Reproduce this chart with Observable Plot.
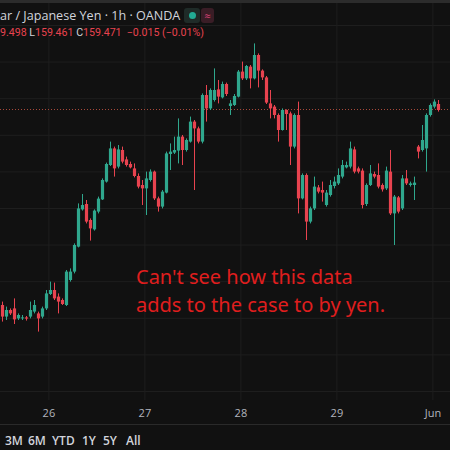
<!DOCTYPE html>
<html><head><meta charset="utf-8">
<script src="https://cdn.jsdelivr.net/npm/d3@7"></script>
<script src="https://cdn.jsdelivr.net/npm/@observablehq/plot@0.6"></script>
<style>
html,body{margin:0;padding:0;background:#111111;}
#wrap{position:relative;width:450px;height:450px;overflow:hidden;background:#111111;font-family:"Open Sans","Noto Sans",sans-serif;}
#chart{position:absolute;left:0;top:0;}
.ov{position:absolute;white-space:nowrap;}
#topbar{left:0;top:0;width:450px;height:3px;background:#2c2c2c;}
#title{left:0;top:7px;font-size:12.6px;color:#d1d4dc;}
#dotbox{left:184px;top:8px;width:16px;height:15px;border-radius:3px;background:#1f2b28;}
#dot{left:189px;top:12px;width:7px;height:7px;border-radius:50%;background:#22ab94;}
#wavebox{left:201px;top:8px;width:13px;height:15px;border-radius:3px;background:#3a1d26;color:#e0457b;font-size:11px;text-align:center;line-height:15px;}
#ohlc{left:0;top:26px;font-size:10.6px;color:#e8434f;font-family:Roboto,"Open Sans",sans-serif;}
#ohlc .k{color:#d1d4dc;}
#note{left:136px;top:263px;font-size:20px;line-height:28px;color:#e01e1e;font-family:"Noto Sans","Open Sans",sans-serif;}
#sep{left:0;top:424px;width:450px;height:1px;background:#2a2a2a;}
.btn{top:432px;font-size:12px;color:#d1d4dc;font-weight:600;}
</style></head>
<body><div id="wrap"><div id="chart"></div>
<div class="ov" id="topbar"></div>
<div class="ov" id="title">ar / Japanese Yen · 1h · OANDA</div>
<div class="ov" id="dotbox"></div><div class="ov" id="dot"></div>
<div class="ov" id="wavebox">≈</div>
<div class="ov" id="ohlc">9.498 <span class="k">L</span>159.461 <span class="k">C</span>159.471 &nbsp;−0.015 (−0.01%)</div>
<div class="ov" id="note">Can't see how this data<br>adds to the case to by yen.</div>
<div class="ov" id="sep"></div>
<div id="btns"></div>
</div>
<script>
// hourly candles (index = hour slot), prices in JPY
const opens = [158.491,158.433,158.466,158.474,158.424,158.424,158.429,158.433,158.458,158.449,
158.433,158.474,158.546,158.566,158.533,158.516,158.491,158.616,158.658,158.783,
158.969,158.996,158.916,158.869,158.958,159.019,159.108,159.191,159.274,159.183,
159.266,159.219,159.196,159.174,159.136,159.091,159.074,159.116,159.158,159.024,
158.983,159.053,159.246,159.253,159.263,159.333,159.266,159.308,159.408,159.374,
159.308,159.541,159.474,159.516,159.569,159.529,159.596,159.486,159.491,159.533,
159.658,159.624,159.683,159.624,159.741,159.663,159.629,159.499,159.483,159.441,
159.366,159.466,159.449,159.283,159.441,159.024,159.141,158.908,158.974,159.079,
159.066,158.991,159.041,159.086,159.099,159.133,159.179,159.183,159.269,159.174,
159.163,158.996,159.091,159.146,159.141,159.091,159.074,159.158,158.949,159.029,
158.974,159.124,159.091,159.091,159.283,159.266,159.274,159.441,159.483,159.496];
const highs = [158.508,158.483,158.474,158.524,158.449,158.441,158.436,158.508,158.516,158.458,
158.483,158.566,158.608,158.603,158.549,158.524,158.666,158.674,158.799,158.999,
159.046,159.016,158.924,158.969,159.033,159.124,159.203,159.308,159.283,159.291,
159.283,159.233,159.208,159.199,159.149,159.116,159.158,159.169,159.163,159.033,
159.066,159.258,159.299,159.333,159.424,159.341,159.324,159.433,159.416,159.383,
159.549,159.591,159.574,159.674,159.616,159.608,159.603,159.516,159.546,159.666,
159.708,159.691,159.691,159.799,159.749,159.669,159.636,159.566,159.491,159.449,
159.474,159.469,159.458,159.449,159.508,159.149,159.149,158.983,159.133,159.091,
159.108,159.066,159.116,159.133,159.174,159.216,159.208,159.308,159.283,159.183,
159.174,159.099,159.191,159.158,159.199,159.099,159.183,159.266,159.041,159.036,
159.141,159.166,159.108,159.133,159.291,159.391,159.449,159.499,159.519,159.516];
const lows = [158.408,158.416,158.441,158.396,158.416,158.416,158.413,158.424,158.449,158.358,
158.424,158.466,158.541,158.516,158.449,158.491,158.486,158.608,158.649,158.779,
158.963,158.899,158.813,158.863,158.949,159.016,159.103,159.186,159.133,159.174,
159.199,159.183,159.174,159.129,159.074,158.991,158.941,159.108,159.016,158.958,
158.974,159.049,159.166,159.246,159.199,159.191,159.258,159.303,159.066,159.299,
159.299,159.408,159.466,159.508,159.499,159.524,159.536,159.441,159.486,159.529,
159.616,159.616,159.574,159.619,159.579,159.616,159.496,159.424,159.424,159.308,
159.363,159.366,159.191,159.274,158.949,159.019,158.816,158.899,158.966,159.049,
159.008,158.983,159.033,159.074,159.091,159.124,159.174,159.174,159.149,159.149,
158.974,158.986,159.086,159.124,159.074,159.058,159.066,158.941,158.791,158.949,
158.966,159.091,159.083,159.016,159.224,159.258,159.158,159.433,159.474,159.458];
const closes = [158.433,158.466,158.449,158.419,158.441,158.429,158.423,158.466,158.491,158.424,
158.474,158.549,158.566,158.524,158.508,158.496,158.658,158.658,158.791,158.974,
158.991,158.908,158.874,158.963,159.023,159.116,159.196,159.274,159.174,159.269,
159.208,159.191,159.179,159.136,159.083,159.074,159.124,159.158,159.024,158.983,
159.058,159.249,159.258,159.266,159.333,159.266,159.316,159.408,159.374,159.308,
159.541,159.474,159.566,159.566,159.533,159.596,159.546,159.499,159.536,159.658,
159.624,159.686,159.624,159.741,159.663,159.629,159.503,159.474,159.441,159.366,
159.466,159.446,159.283,159.441,159.024,159.141,158.908,158.974,159.083,159.058,
159.053,159.053,159.091,159.108,159.141,159.191,159.191,159.274,159.158,159.158,
158.991,159.091,159.149,159.133,159.083,159.069,159.163,158.949,159.033,158.958,
159.124,159.099,159.099,159.103,159.258,159.316,159.441,159.491,159.508,159.466];
const lastPrice = 159.471;
const dayTickSlots = [11.6, 35.6, 59.6, 83.6, 107.6];
const dayTickLabels = ["26", "27", "28", "29", "Jun"];
const priceGrid = [159.891, 159.708, 159.525, 159.342, 159.159, 158.976, 158.793, 158.610, 158.427, 158.244, 158.061];
const rangeButtons = ["3M", "6M", "YTD", "1Y", "5Y", "All"];
const rangeButtonLeft = [5, 28, 52, 82, 103, 126];

const UP = "#2fa78d", DOWN = "#e8434f";
const candles = opens.map((o, i) => ({
  t: i, open: o, high: highs[i], low: lows[i], close: closes[i],
  col: closes[i] >= o ? UP : DOWN
}));
const labelOf = new Map(dayTickSlots.map((t, i) => [t, dayTickLabels[i]]));

const chart = Plot.plot({
  width: 450, height: 425,
  marginTop: 0, marginLeft: 0, marginRight: 0, marginBottom: 25,
  style: {background: "#111111", color: "#b2b5be", fontSize: "11px", fontFamily: "'Open Sans', sans-serif"},
  x: {domain: [-0.5, 112], axis: null, label: null},
  y: {domain: [158.016, 160.016], axis: null, label: null},
  color: {type: "identity"},
  marks: [
    Plot.gridY(priceGrid, {stroke: "#1e1e1e", strokeOpacity: 1}),
    Plot.gridX(dayTickSlots, {stroke: "#1e1e1e", strokeOpacity: 1}),
    Plot.axisX(dayTickSlots, {tickSize: 0, tickPadding: 9, label: null, tickFormat: d => labelOf.get(d), fill: "#b2b5be"}),
    Plot.ruleY([lastPrice], {stroke: "#a8493a", strokeDasharray: "1,2"}),
    Plot.ruleX(candles, {x: "t", y1: "low", y2: "high", stroke: "col", strokeWidth: 1}),
    Plot.ruleX(candles, {x: "t", y1: "open", y2: "close", stroke: "col", strokeWidth: 3.2})
  ]
});
document.getElementById("chart").appendChild(chart);

const btns = document.getElementById("btns");
rangeButtons.forEach((b, i) => {
  const d = document.createElement("div");
  d.className = "ov btn";
  d.style.left = rangeButtonLeft[i] + "px";
  d.textContent = b;
  btns.appendChild(d);
});
</script>
</body></html>
